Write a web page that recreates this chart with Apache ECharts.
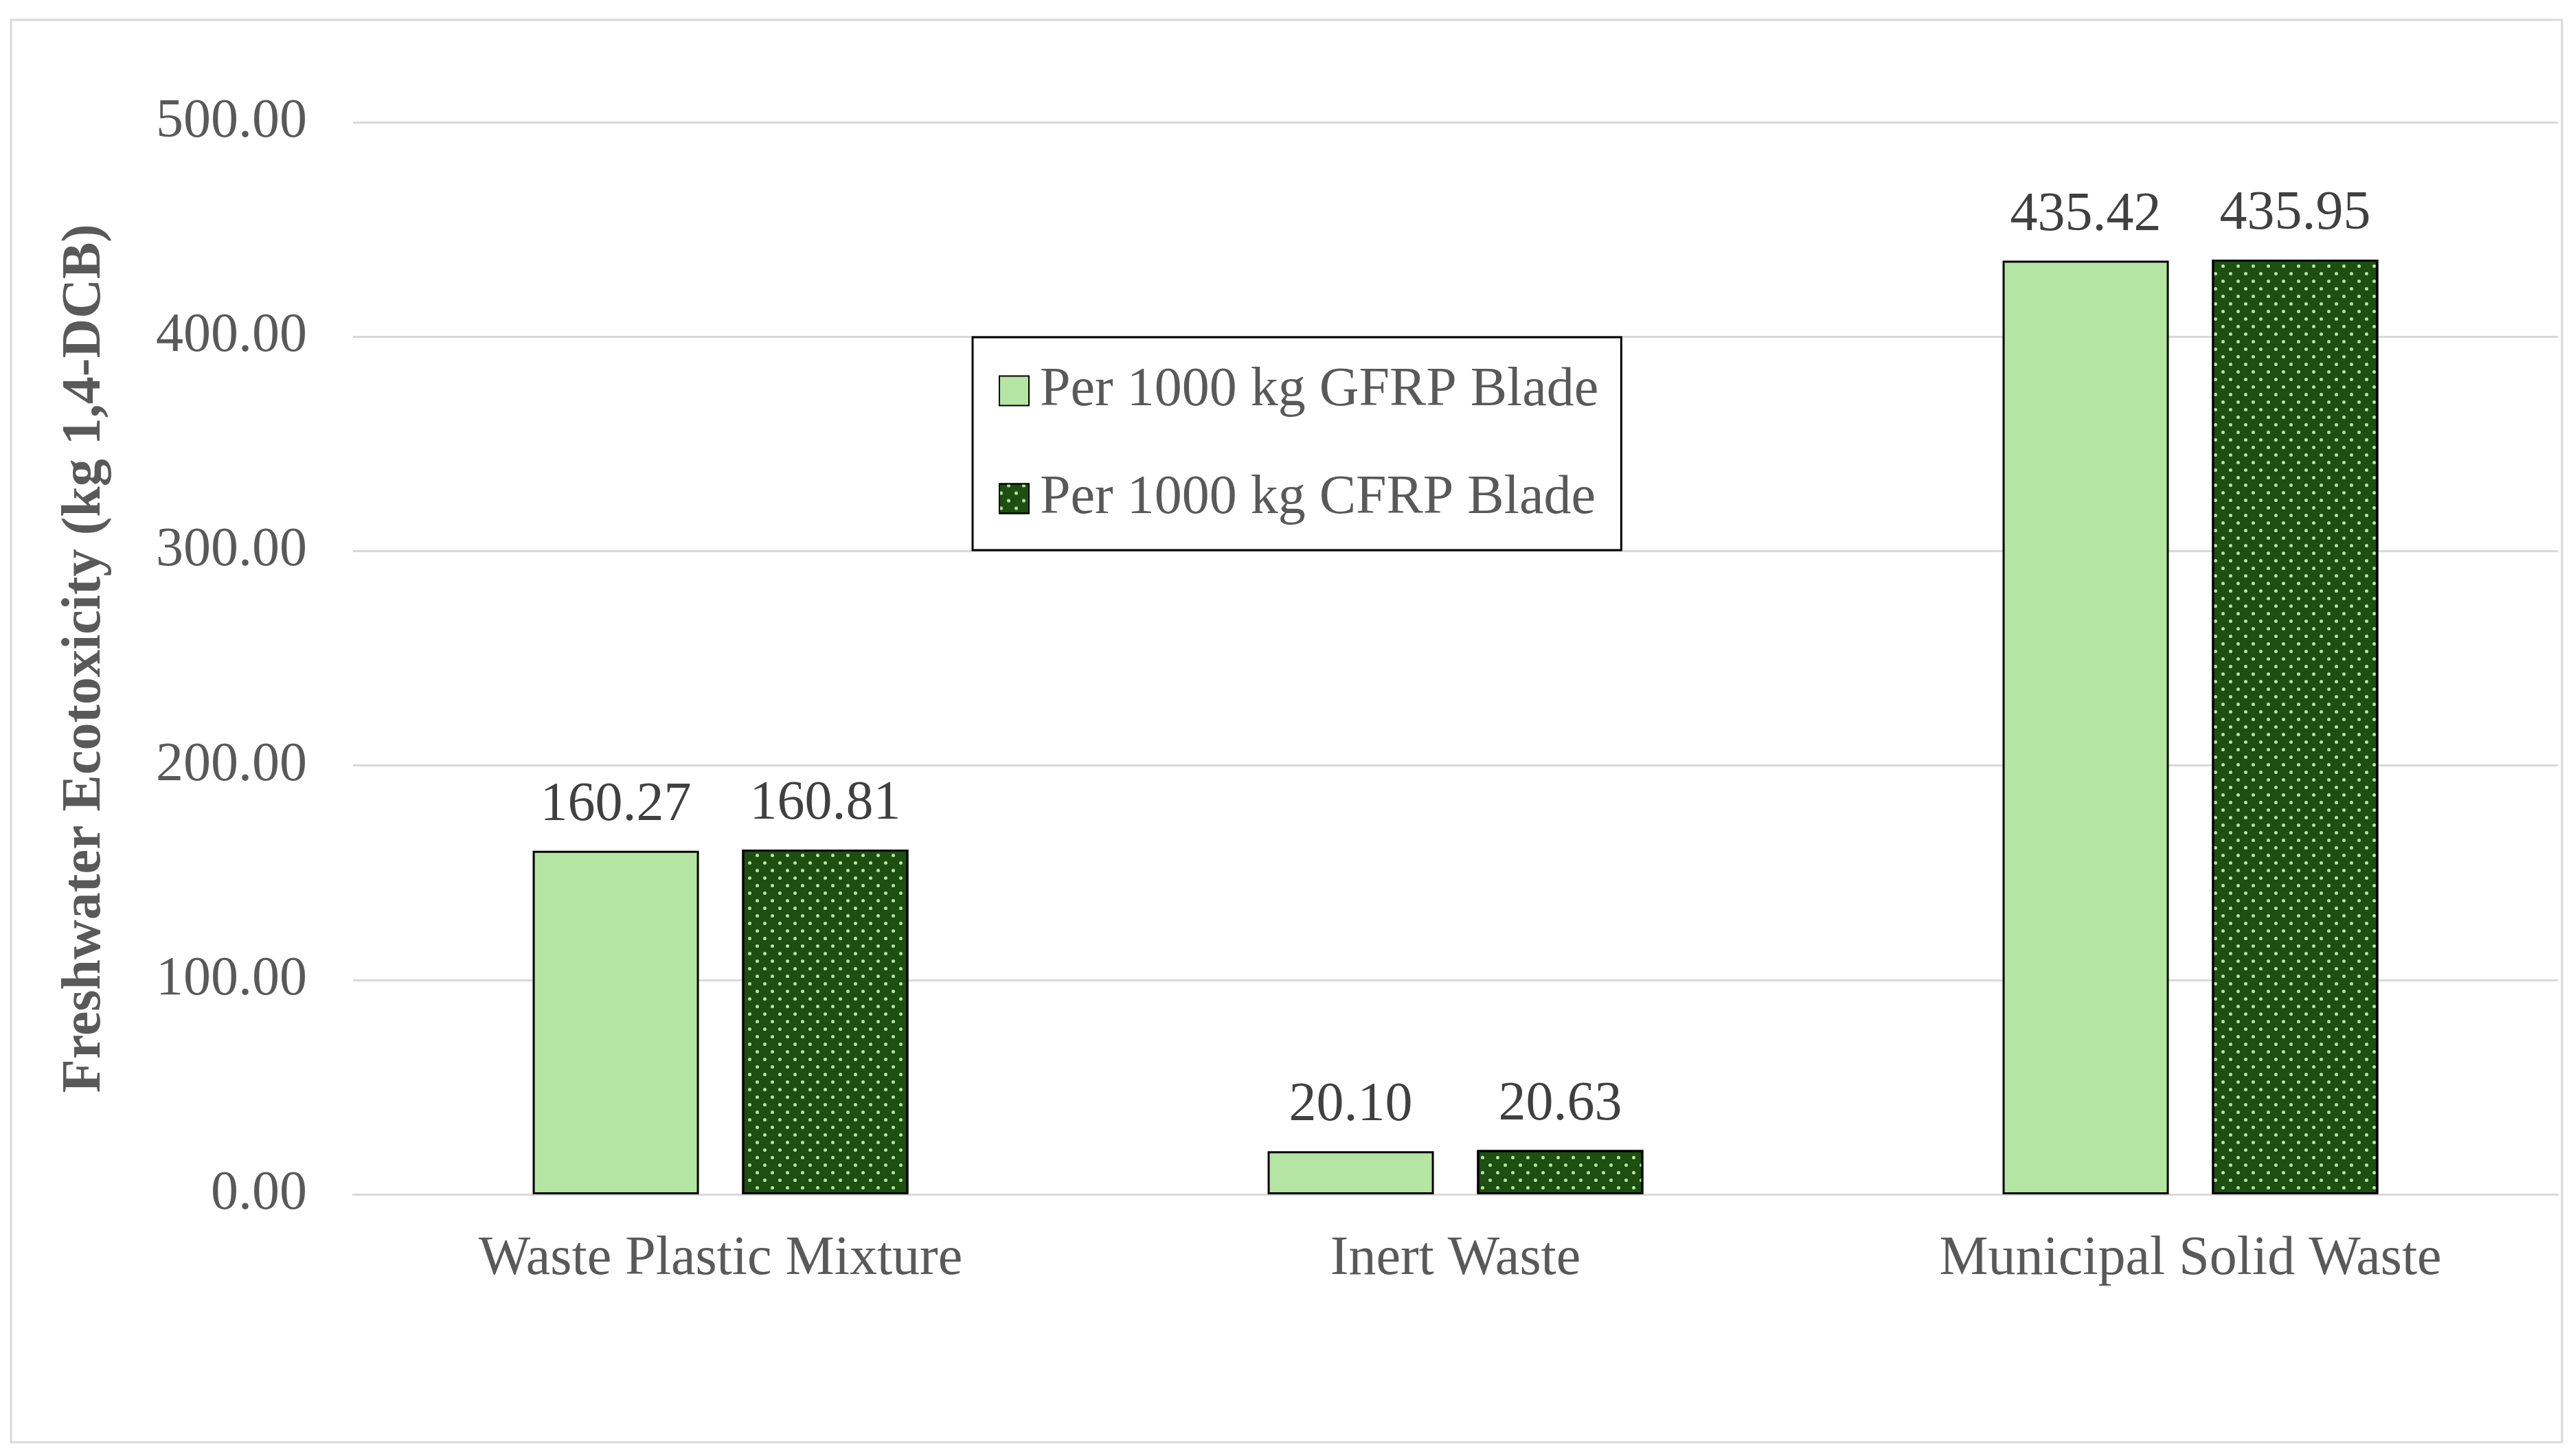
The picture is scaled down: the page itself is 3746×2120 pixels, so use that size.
<!DOCTYPE html>
<html>
<head>
<meta charset="utf-8">
<script src="https://cdn.jsdelivr.net/npm/echarts@6/dist/echarts.min.js"></script>
<style>
html,body{margin:0;padding:0;background:#fff;}
#c{width:3746px;height:2120px;}
</style>
</head>
<body>
<div id="c"></div>
<script>
var categories = ['Waste Plastic Mixture', 'Inert Waste', 'Municipal Solid Waste'];
var gfrpValues = [160.27, 20.10, 435.42];
var cfrpValues = [160.81, 20.63, 435.95];
var seriesNames = ['Per 1000 kg GFRP Blade', 'Per 1000 kg CFRP Blade'];
var yAxisTitle = 'Freshwater Ecotoxicity (kg 1,4-DCB)';

var FONT = 'Liberation Serif';
var chart = echarts.init(document.getElementById('c'), null, {renderer: 'canvas'});

var labelOpt = {
  show: true,
  position: 'top',
  distance: 26,
  fontFamily: FONT,
  fontSize: 80,
  lineHeight: 80,
  color: '#404040',
  formatter: function (p) { return p.value.toFixed(2); }
};

chart.setOption({
  animation: false,
  backgroundColor: '#ffffff',
  graphic: [{
    type: 'rect',
    shape: {x: 16, y: 29, width: 3714, height: 2071},
    style: {fill: 'none', stroke: '#d9d9d9', lineWidth: 3},
    silent: true
  }],
  grid: {left: 514, right: 22, top: 178, bottom: 381, containLabel: false},
  legend: {
    orient: 'vertical',
    left: 1416,
    top: 491,
    padding: [38, 33, 35, 38],
    itemGap: 77,
    itemWidth: 43,
    itemHeight: 43,
    icon: 'rect',
    borderColor: '#000',
    borderWidth: 3,
    backgroundColor: '#fff',
    textStyle: {fontFamily: FONT, fontSize: 80, lineHeight: 80, color: '#595959', padding: [0, 0, 0, 11]},
    data: seriesNames
  },
  xAxis: {
    type: 'category',
    data: categories,
    axisLine: {show: true, lineStyle: {color: '#d9d9d9', width: 3}},
    axisTick: {show: false},
    axisLabel: {fontFamily: FONT, fontSize: 80, lineHeight: 80, color: '#595959', margin: 55}
  },
  yAxis: {
    type: 'value',
    min: 0,
    max: 500,
    interval: 100,
    name: yAxisTitle,
    nameLocation: 'middle',
    nameGap: 350,
    nameRotate: 90,
    nameTextStyle: {fontFamily: FONT, fontSize: 80, lineHeight: 80, fontWeight: 'bold', color: '#595959'},
    axisLine: {show: false},
    axisTick: {show: false},
    splitLine: {lineStyle: {color: '#d9d9d9', width: 3}},
    axisLabel: {
      fontFamily: FONT, fontSize: 80, color: '#595959', margin: 67,
      formatter: function (v) { return v.toFixed(2); }
    }
  },
  series: [
    {
      name: seriesNames[0],
      type: 'bar',
      data: gfrpValues,
      barWidth: 242,
      barGap: '26%',
      itemStyle: {color: '#b5e5a2', borderColor: '#000', borderWidth: 3},
      label: labelOpt
    },
    {
      name: seriesNames[1],
      type: 'bar',
      data: cfrpValues,
      barWidth: 242,
      itemStyle: {
        color: '#1d4f10',
        borderColor: '#000',
        borderWidth: 3,
        decal: {
          symbol: 'circle',
          symbolSize: 1,
          color: '#b5e5a2',
          backgroundColor: null,
          dashArrayX: [[5, 17], [0, 11, 5, 6]],
          dashArrayY: [5, 6],
          rotation: 0
        }
      },
      label: labelOpt
    }
  ]
});
</script>
</body>
</html>
